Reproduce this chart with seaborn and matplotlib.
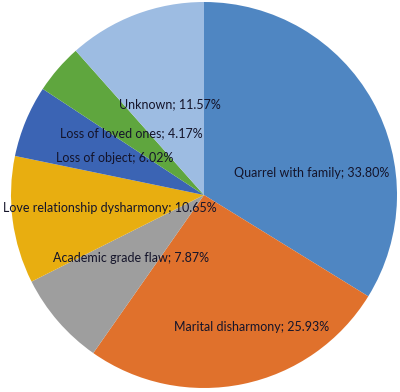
import matplotlib
matplotlib.use("Agg")
import matplotlib.pyplot as plt
import seaborn as sns

# %% data
causes = [
    "Quarrel with family",
    "Marital disharmony",
    "Academic grade flaw",
    "Love relationship dysharmony",
    "Loss of object",
    "Loss of loved ones",
    "Unknown",
]
shares = [33.80, 25.93, 7.87, 10.65, 6.02, 4.17, 11.57]

colors = ["#4F86C2", "#E0712C", "#9E9E9E", "#E8AE10", "#3B64B4", "#5FA63E", "#9DBCE2"]

# label centres in data units (pie radius = 1)
label_pos = [
    (0.56, 0.114),
    (0.244, -0.684),
    (-0.378, -0.326),
    (-0.49, -0.067),
    (-0.461, 0.192),
    (-0.378, 0.321),
    (-0.176, 0.471),
]

# %% plot
sns.set_style("white")
plt.rcParams["font.family"] = ["Lato", "DejaVu Sans"]

fig = plt.figure(figsize=(4.0, 3.92), dpi=100)
ax = fig.add_axes([0, 0, 1, 1])

ax.pie(
    shares,
    colors=colors,
    startangle=90,
    counterclock=False,
    radius=1.0,
    wedgeprops=dict(linewidth=0),
)

for name, val, (x, y) in zip(causes, shares, label_pos):
    ax.text(x, y, f"{name}; {val:.2f}%", ha="center", va="center",
            fontsize=9.0, color="#14142a")

r_px = 193
ax.set_xlim(-204 / r_px, (400 - 204) / r_px)
ax.set_ylim(-(392 - 195) / r_px, 195 / r_px)
ax.set_aspect("equal")
ax.axis("off")

fig.savefig("out.png", dpi=100, facecolor="white")
